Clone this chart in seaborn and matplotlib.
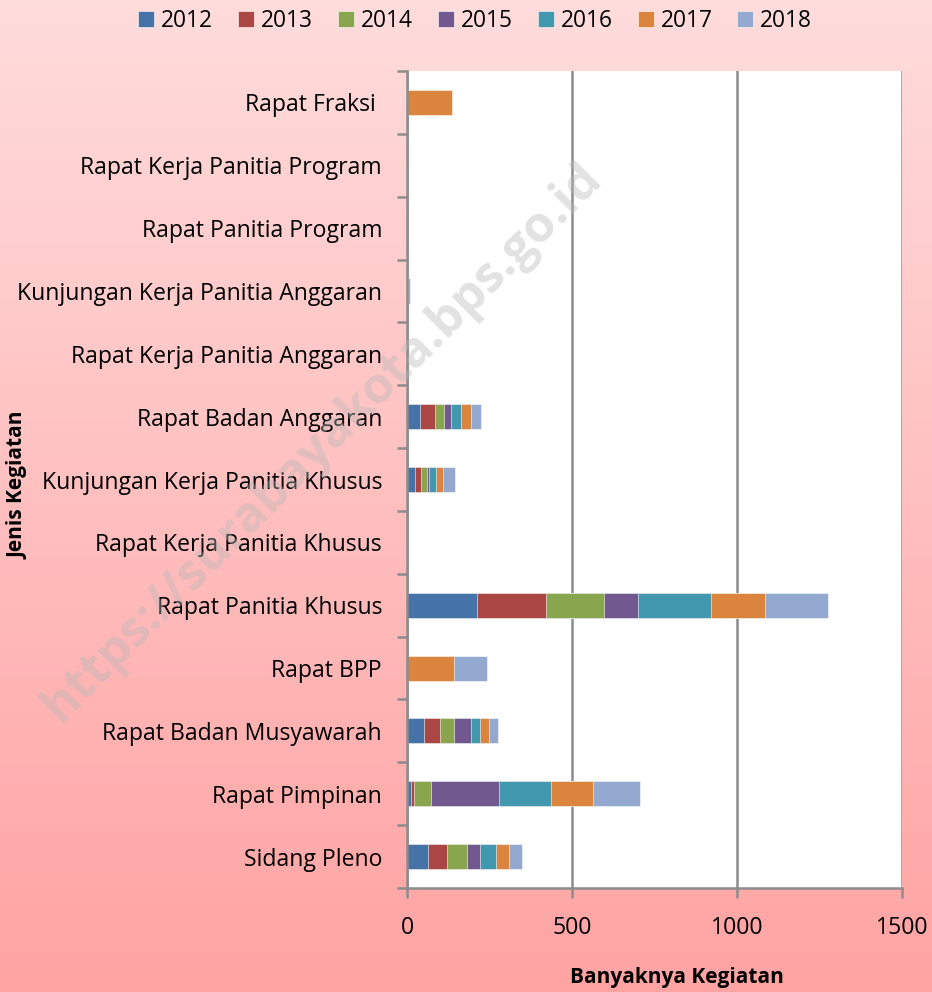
import numpy as np
import pandas as pd
import seaborn as sns
import matplotlib.pyplot as plt
from matplotlib.colors import LinearSegmentedColormap

sns.set_theme(style="white")
plt.rcParams['font.family'] = ['Open Sans', 'DejaVu Sans']
plt.rcParams['text.color'] = 'black'

# Data kegiatan (urutan dari atas ke bawah)
kegiatan = [
    'Rapat Fraksi ', 'Rapat Kerja Panitia Program', 'Rapat Panitia Program',
    'Kunjungan Kerja Panitia Anggaran', 'Rapat Kerja Panitia Anggaran',
    'Rapat Badan Anggaran', 'Kunjungan Kerja Panitia Khusus',
    'Rapat Kerja Panitia Khusus', 'Rapat Panitia Khusus', 'Rapat BPP',
    'Rapat Badan Musyawarah', 'Rapat Pimpinan', 'Sidang Pleno'
]
tahun = ['2012', '2013', '2014', '2015', '2016', '2017', '2018']

v2012 = [0, 0, 0, 0, 0, 38, 24, 0, 213, 0, 50, 11, 63]
v2013 = [0, 0, 0, 0, 0, 47, 19, 0, 208, 0, 50, 11, 59]
v2014 = [0, 0, 0, 0, 0, 26, 17, 0, 175, 0, 42, 52, 61]
v2015 = [0, 0, 0, 0, 0, 22, 8, 0, 103, 0, 51, 206, 38]
v2016 = [0, 0, 0, 0, 0, 31, 19, 0, 223, 0, 27, 157, 50]
v2017 = [136, 0, 0, 4, 0, 29, 22, 0, 162, 141, 27, 126, 38]
v2018 = [0, 0, 0, 5, 0, 31, 36, 0, 193, 100, 30, 144, 40]

warna = ['#4572A7', '#AA4643', '#89A54E', '#71588F', '#4198AF', '#DB843D', '#93A9CF']

df = pd.DataFrame({'kegiatan': kegiatan, '2012': v2012, '2013': v2013, '2014': v2014,
                   '2015': v2015, '2016': v2016, '2017': v2017, '2018': v2018})
kumulatif = df[tahun].cumsum(axis=1)
kumulatif['kegiatan'] = kegiatan

fig = plt.figure(figsize=(9.32, 9.92), dpi=100)

# Latar belakang gradasi merah muda
bg = fig.add_axes([0, 0, 1, 1], zorder=-10)
cmap_bg = LinearSegmentedColormap.from_list('bg', ['#FFA3A3', '#FFDCDC'])
bg.imshow(np.linspace(0, 1, 256).reshape(-1, 1), aspect='auto', cmap=cmap_bg,
          origin='lower', extent=[0, 1, 0, 1])
bg.axis('off')

ax = fig.add_axes([0.4367, 0.1048, 0.5311, 0.8236])
ax.set_facecolor('white')

# Batang bertumpuk: gambar total kumulatif dari tahun terakhir ke awal
for th, c in reversed(list(zip(tahun, warna))):
    sns.barplot(data=kumulatif, x=th, y='kegiatan', orient='h', color=c,
                width=0.4, label=th, ax=ax, saturation=1,
                edgecolor='white', linewidth=0.4)

ax.set_xlim(0, 1500)
ax.set_ylim(12.5, -0.5)
ax.set_xticks([0, 500, 1000, 1500])
ax.grid(axis='x', color='#8c8c8c', linewidth=1.8)
ax.set_axisbelow(True)

for s in ['top', 'right']:
    ax.spines[s].set_visible(False)
ax.spines['left'].set_color('#8c8c8c')
ax.spines['left'].set_linewidth(1.8)
ax.spines['bottom'].set_color('#8c8c8c')
ax.spines['bottom'].set_linewidth(1.8)

ax.set_yticks(np.arange(-0.5, 13, 1), minor=True)
ax.tick_params(axis='y', which='major', length=0, labelsize=16.6, pad=18, labelcolor='black')
ax.tick_params(axis='y', which='minor', length=7, width=1.8, color='#8c8c8c', left=True)
ax.tick_params(axis='x', which='major', length=7, width=1.8, color='#8c8c8c', bottom=True,
               labelsize=16.6, pad=13, labelcolor='black')

ax.set_xlabel('')
ax.set_ylabel('')
fig.text(0.726, 0.015, 'Banyaknya Kegiatan', fontsize=15, fontweight='bold',
         ha='center', va='center', color='black')
fig.text(0.019, 0.511, 'Jenis Kegiatan', rotation=90, fontsize=15, fontweight='bold',
         ha='center', va='center', color='black')

# Legenda di atas
h, l = ax.get_legend_handles_labels()
urut = [l.index(t) for t in tahun]
fig.legend([h[i] for i in urut], [l[i] for i in urut], loc='center',
           bbox_to_anchor=(0.51, 0.979), ncol=7, frameon=False, fontsize=16.4,
           handlelength=0.7, handleheight=0.7, handletextpad=0.3, columnspacing=1.1)
if ax.get_legend() is not None:
    ax.get_legend().remove()

# Tanda air
fig.text(0.3455, 0.554, 'https://surabayakota.bps.go.id', rotation=45, fontsize=36,
         fontweight='bold', color='#b8b8b8', alpha=0.4, ha='center', va='center',
         zorder=20)

fig.savefig('out.png', dpi=100)
